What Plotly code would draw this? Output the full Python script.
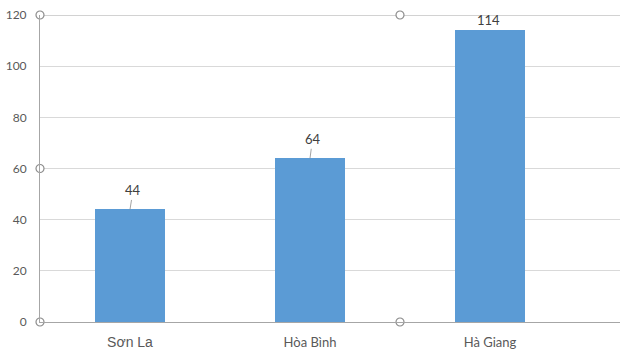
import plotly.graph_objects as go

categories = ["Sơn La", "Hòa Bình", "Hà Giang"]
values = [44, 64, 114]
y_ticks = [0, 20, 40, 60, 80, 100, 120]

# per-category label styles (Sơn La rendered in a different font in the source)
cat_fonts = ["Liberation Sans", "Lato", "Lato"]
cat_sizes = [14, 13, 13]

x_idx = list(range(len(categories)))
x_range = [-0.5, -0.5 + 580 / 180]

fig = go.Figure()
fig.add_trace(go.Bar(
    x=x_idx, y=values, width=0.39,
    marker=dict(color="#5B9BD5", line=dict(width=0)),
    hoverinfo="skip", showlegend=False,
))

# selection handles of the plot area frame
hx = [-0.5, 1.5, -0.5, -0.5, 1.5]
hy = [120, 120, 60, 0, 0]
fig.add_trace(go.Scatter(
    x=hx, y=hy, mode="markers", cliponaxis=False, showlegend=False,
    hoverinfo="skip",
    marker=dict(symbol="circle", size=8, color="white",
                line=dict(color="#8C8C8C", width=1.2)),
))

ticktext = [f'<span style="font-family:{f};font-size:{s}px">{c}</span>'
            for c, f, s in zip(categories, cat_fonts, cat_sizes)]

offsets = [(3, -19), (2.5, -19), (-2, -10)]
for xi, v, (ax, ay) in zip(x_idx, values, offsets):
    if abs(ay) > 12:
        fig.add_annotation(
            x=xi, y=v, xref="x", yref="y", text=str(v),
            showarrow=True, arrowhead=0, arrowwidth=0.8, arrowcolor="#8C8C8C",
            ax=ax, ay=ay, standoff=0,
            font=dict(family="Lato", size=13, color="#404040"),
            xanchor="center", yanchor="middle",
        )
    else:
        fig.add_annotation(
            x=xi, y=v, xref="x", yref="y", text=str(v), showarrow=False,
            yshift=-ay, xshift=ax,
            font=dict(family="Lato", size=13, color="#404040"),
            xanchor="center", yanchor="middle",
        )

fig.add_shape(type="line", xref="paper", yref="y", x0=0, x1=1, y0=120, y1=120,
              line=dict(color="#A6A6A6", width=1), layer="between")

fig.update_layout(
    width=620, height=359,
    margin=dict(l=40, r=0, t=15, b=37, autoexpand=False),
    plot_bgcolor="white", paper_bgcolor="white",
    font=dict(family="Lato", size=12, color="#595959"),
    bargap=0,
    xaxis=dict(
        range=x_range, tickmode="array", tickvals=x_idx, ticktext=ticktext,
        showgrid=False, zeroline=False, showline=True, linecolor="#A6A6A6",
        linewidth=1, ticks="", ticklabelstandoff=8, automargin=False,
        tickfont=dict(family="Lato", size=13, color="#595959"),
    ),
    yaxis=dict(
        range=[0, 120], tickmode="array", tickvals=y_ticks,
        showgrid=True, gridcolor="#D9D9D9", gridwidth=1,
        zeroline=False, showline=True, linecolor="#A6A6A6", linewidth=1,
        ticks="", ticklabelstandoff=10, automargin=False,
        tickfont=dict(family="Lato", size=12, color="#595959"),
    ),
)

fig.write_html(
    "out.html",
    config={"displayModeBar": False},
    post_script="document.body.style.margin='0';document.body.style.overflow='hidden';",
)
